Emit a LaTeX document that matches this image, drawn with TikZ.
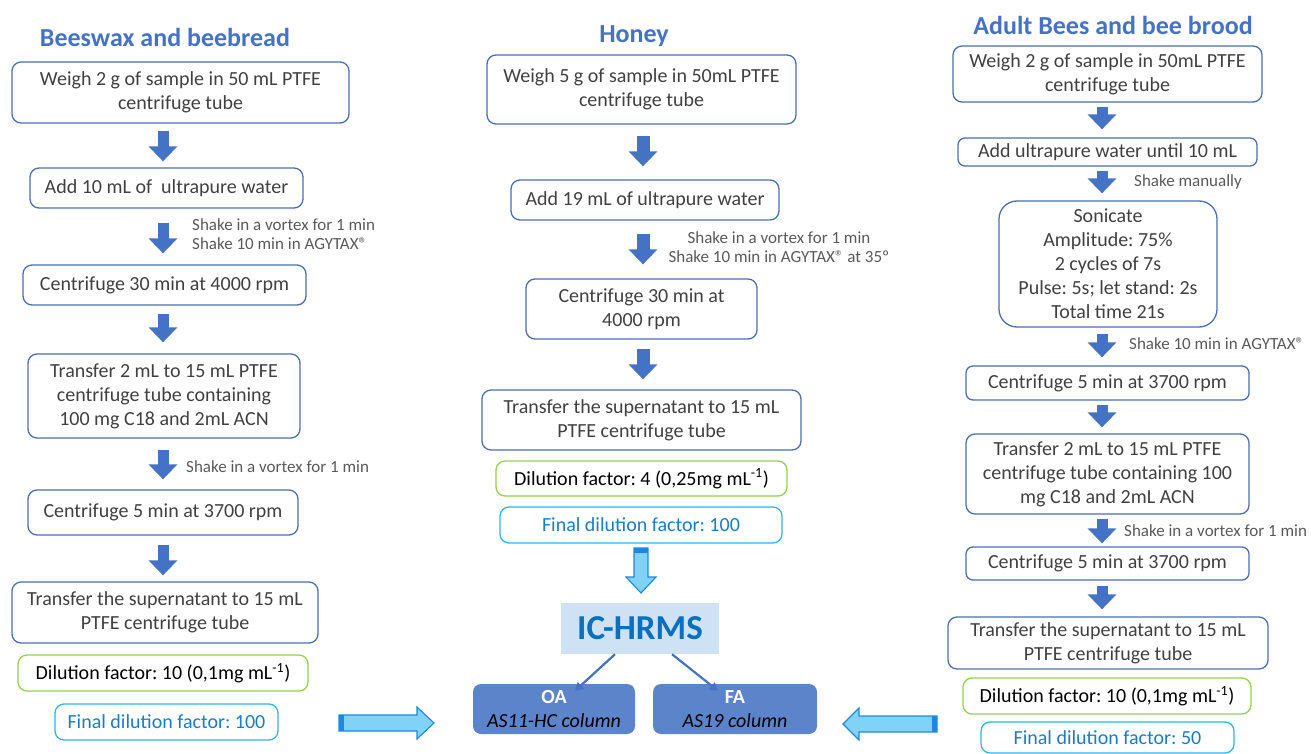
\documentclass[tikz,border=0pt]{standalone}
\usepackage{fontspec}
\setmainfont{Carlito}
\usepackage{xcolor}
\usetikzlibrary{arrows.meta}
\frenchspacing
\definecolor{boxblue}{HTML}{4A6EB0}
\definecolor{arrowblue}{HTML}{4472C4}
\definecolor{titleblue}{HTML}{4472C4}
\definecolor{textgray}{HTML}{404040}
\definecolor{notegray}{HTML}{595959}
\definecolor{dilgreen}{HTML}{92D050}
\definecolor{finalcyan}{HTML}{2EB4EE}
\definecolor{finaltext}{HTML}{1A7CC8}
\definecolor{hollowfill}{HTML}{80D2F6}
\definecolor{hollowline}{HTML}{1E88DC}
\definecolor{icfill}{HTML}{CFE2F3}
\definecolor{ictext}{HTML}{0B6FBF}
\definecolor{colfill}{HTML}{5B84CB}

\begin{document}
\begin{tikzpicture}[x=1pt,y=-1pt,
  stepbox/.style={draw=boxblue,line width=1.3pt,rounded corners=9pt,align=center,
    text=textgray,inner sep=0pt,font=\fontsize{20}{24}\selectfont},
  dilbox/.style={stepbox,draw=dilgreen,text=black},
  finalbox/.style={stepbox,draw=finalcyan,text=finaltext},
  note/.style={text=notegray,align=left,anchor=west,inner sep=0pt,font=\fontsize{17}{19}\selectfont},
  title/.style={text=titleblue,font=\fontsize{26}{30}\selectfont\bfseries},
  downarrow/.style={draw=arrowblue,line width=11pt,-{Triangle[width=28pt,length=15pt]}},
  splitarrow/.style={arrowblue,line width=2.2pt,-{Triangle[width=9pt,length=8pt]}},
  hollow/.style={fill=hollowfill,draw=hollowline,line width=1.1pt,line join=miter}]
\useasboundingbox (0,0) rectangle (1311,754);

\coordinate (axL) at (163,0);
\coordinate (axM) at (643,0);
\coordinate (axR) at (1102,0);

% Beeswax and beebread
\node[title] (tL) at (165,37) {Beeswax and beebread};
\node[stepbox,minimum width=337pt,minimum height=61pt] (L1) at (180.5,92.5) {Weigh 2 g of sample in 50 mL PTFE\\centrifuge tube};
\node[stepbox,minimum width=273pt,minimum height=40pt] (L2) at (166.5,188) {Add 10 mL of\ \ ultrapure water};
\node[stepbox,minimum width=283pt,minimum height=40pt] (L3) at (164.5,285) {Centrifuge 30 min at 4000 rpm};
\node[stepbox,minimum width=272pt,minimum height=84pt] (L4) at (164,396) {Transfer 2 mL to 15 mL PTFE\\centrifuge tube containing\\100 mg C18 and 2mL ACN};
\node[stepbox,minimum width=270pt,minimum height=45pt] (L5) at (163,512.5) {Centrifuge 5 min at 3700 rpm};
\node[stepbox,minimum width=306pt,minimum height=61pt] (L6) at (165,612.5) {Transfer the supernatant to 15 mL\\PTFE centrifuge tube};
\node[dilbox,minimum width=290pt,minimum height=36pt] (L7) at (163,673) {Dilution factor: 10 (0,1mg mL\textsuperscript{-1})};
\node[finalbox,minimum width=223pt,minimum height=36pt] (L8) at (166.5,722) {Final dilution factor: 100};
\node[note] (nL1) at (192,234.5) {Shake in a vortex for 1 min\\Shake 10 min in AGYTAX®};
\node[note] (nL2) at (186,467) {Shake in a vortex for 1 min};

\draw[downarrow,shorten <=7pt,shorten >=6pt] (L1.south -| axL) -- (L2.north -| axL);
\draw[downarrow,shorten <=14pt,shorten >=11pt] (L2.south -| axL) -- (L3.north -| axL);
\draw[downarrow,shorten <=8pt,shorten >=11pt] (L3.south -| axL) -- (L4.north -| axL);
\draw[downarrow,shorten <=11pt,shorten >=10pt] (L4.south -| axL) -- (L5.north -| axL);
\draw[downarrow,shorten <=9pt,shorten >=6pt] (L5.south -| axL) -- (L6.north -| axL);

% Honey
\node[title] (tM) at (634,36) {Honey};
\node[stepbox,minimum width=309pt,minimum height=69pt] (M1) at (641.5,89.5) {Weigh 5 g of sample in 50mL PTFE\\centrifuge tube};
\node[stepbox,minimum width=268pt,minimum height=40pt] (M2) at (645,200) {Add 19 mL of ultrapure water};
\node[stepbox,minimum width=231pt,minimum height=60pt] (M3) at (641.5,309) {Centrifuge 30 min at\\4000 rpm};
\node[stepbox,minimum width=319pt,minimum height=60pt] (M4) at (641.5,420) {Transfer the supernatant to 15 mL\\PTFE centrifuge tube};
\node[dilbox,minimum width=291pt,minimum height=35pt] (M5) at (641.5,478.5) {Dilution factor: 4 (0,25mg mL\textsuperscript{-1})};
\node[finalbox,minimum width=282pt,minimum height=36pt] (M6) at (641,525) {Final dilution factor: 100};
\node[note,align=center,anchor=center] (nM1) at (779,247) {Shake in a vortex for 1 min\\Shake 10 min in AGYTAX® at 35º};

\draw[downarrow,line width=13pt,shorten <=11pt,shorten >=13pt] (M1.south -| axM) -- (M2.north -| axM);
\draw[downarrow,line width=13pt,shorten <=13pt,shorten >=14pt] (M2.south -| axM) -- (M3.north -| axM);
\draw[downarrow,line width=13pt,shorten <=9pt,shorten >=10pt] (M3.south -| axM) -- (M4.north -| axM);

% IC-HRMS
\node[fill=icfill,minimum width=158pt,minimum height=51pt,inner sep=0pt,text=ictext,
  font=\fontsize{35}{38}\selectfont\bfseries] (ic) at (640,628.5) {IC-HRMS};
\node[fill=colfill,rounded corners=8pt,minimum width=162pt,minimum height=50pt,inner sep=0pt,align=center,
  font=\fontsize{20}{24}\selectfont] (oa) at (554,709) {\textcolor{white}{\bfseries OA}\\\textit{AS11-HC column}};
\node[fill=colfill,rounded corners=8pt,minimum width=164pt,minimum height=50pt,inner sep=0pt,align=center,
  font=\fontsize{20}{24}\selectfont] (fa) at (735,709) {\textcolor{white}{\bfseries FA}\\\textit{AS19 column}};
\draw[splitarrow] ([xshift=-25pt]ic.south) -- ([xshift=21pt,yshift=-7pt]oa.north);
\draw[splitarrow] ([xshift=32pt]ic.south) -- ([xshift=-17pt,yshift=-7pt]fa.north);

\draw[hollow] (634,548) -- (648,548) -- (648,577) -- (656,577) -- (641,593) -- (626,577) -- (634,577) -- cycle;
\fill[hollowline] (634,548) rectangle (648,553);
\draw[hollow] (339,715) -- (417,715) -- (417,707) -- (434,723) -- (417,739) -- (417,731) -- (339,731) -- cycle;
\fill[hollowline] (339,715) rectangle (344,731);
\draw[hollow] (937,716) -- (859,716) -- (859,708) -- (843,724) -- (859,740) -- (859,732) -- (937,732) -- cycle;
\fill[hollowline] (932,716) rectangle (937,732);

% Adult bees and bee brood
\node[title] (tR) at (1113,25) {Adult Bees and bee brood};
\node[stepbox,minimum width=309pt,minimum height=56pt] (R1) at (1107.5,74) {Weigh 2 g of sample in 50mL PTFE\\centrifuge tube};
\node[stepbox,minimum width=299pt,minimum height=28pt,rounded corners=7pt] (R2) at (1107.5,152) {Add ultrapure water until 10 mL};
\node[stepbox,minimum width=218pt,minimum height=126pt,rounded corners=18pt] (R3) at (1108,264) {Sonicate\\Amplitude: 75\%\\2 cycles of 7s\\Pulse: 5s; let stand: 2s\\Total time 21s};
\node[stepbox,minimum width=283pt,minimum height=34pt,rounded corners=7pt] (R4) at (1107.5,383) {Centrifuge 5 min at 3700 rpm};
\node[stepbox,minimum width=283pt,minimum height=80pt] (R5) at (1107.5,474) {Transfer 2 mL to 15 mL PTFE\\centrifuge tube containing 100\\mg C18 and 2mL ACN};
\node[stepbox,minimum width=283pt,minimum height=33pt,rounded corners=7pt] (R6) at (1107.5,563.5) {Centrifuge 5 min at 3700 rpm};
\node[stepbox,minimum width=320pt,minimum height=52pt] (R7) at (1108,643) {Transfer the supernatant to 15 mL\\PTFE centrifuge tube};
\node[dilbox,minimum width=288pt,minimum height=36pt] (R8) at (1107,696) {Dilution factor: 10 (0,1mg mL\textsuperscript{-1})};
\node[finalbox,minimum width=253pt,minimum height=31pt] (R9) at (1107.5,737.5) {Final dilution factor: 50};
\node[note] (nR1) at (1134,182) {Shake manually};
\node[note] (nR2) at (1129,344) {Shake 10 min in AGYTAX®};
\node[note] (nR3) at (1124,531) {Shake in a vortex for 1 min};

\draw[downarrow,shorten <=4pt,shorten >=8pt] (R1.south -| axR) -- (R2.north -| axR);
\draw[downarrow,shorten <=4pt,shorten >=7pt] (R2.south -| axR) -- (R3.north -| axR);
\draw[downarrow,shorten <=6pt,shorten >=8pt] (R3.south -| axR) -- (R4.north -| axR);
\draw[downarrow,shorten <=4pt,shorten >=6pt] (R4.south -| axR) -- (R5.north -| axR);
\draw[downarrow,shorten <=4pt,shorten >=3pt] (R5.south -| axR) -- (R6.north -| axR);
\draw[downarrow,shorten <=5pt,shorten >=7pt] (R6.south -| axR) -- (R7.north -| axR);
\end{tikzpicture}
\end{document}
